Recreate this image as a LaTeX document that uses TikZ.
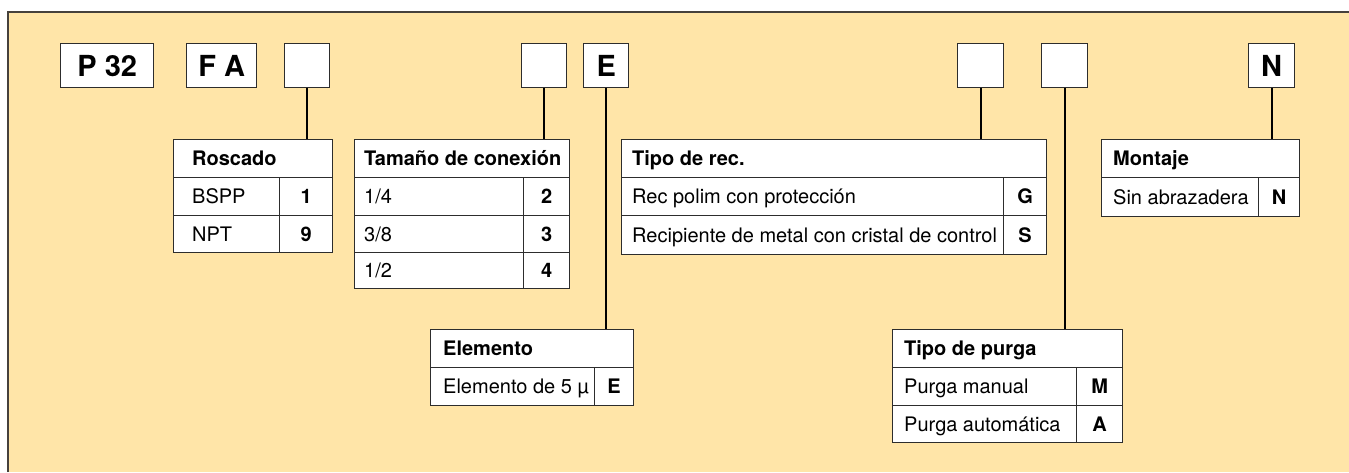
\documentclass[tikz,border=0pt]{standalone}
\usepackage{fontspec}
\setmainfont{TeX Gyre Heros}
\definecolor{bgc}{RGB}{255,229,168}
\definecolor{edge}{RGB}{45,45,45}
\definecolor{frame}{RGB}{70,65,60}
\newcommand\tblfont{\fontsize{20}{24}\selectfont}
\newcommand\topfont{\fontsize{29}{34}\selectfont\bfseries}
% cell: name, x1, y1, x2, y2
\newcommand\mkcell[5]{%
  \pgfmathsetmacro\cw{#4-#2}\pgfmathsetmacro\ch{#5-#3}%
  \node[cell, minimum width=\cw pt, minimum height=\ch pt] (#1) at (#2,#3) {};}
% left text in cell: name, pad, text
\newcommand\ltext[3]{%
  \node[ctext, anchor=base west] (#1t) at ([xshift=#2pt, yshift=-7pt]#1.west) {#3};}
% code cell: name, x1, y1, x2, y2, text
\newcommand\mkcode[6]{%
  \pgfmathsetmacro\cw{#4-#2}\pgfmathsetmacro\ch{#5-#3}%
  \node[cell, minimum width=\cw pt, minimum height=\ch pt] (#1) at (#2,#3) {};
  \node[ctext, anchor=base] (#1t) at ([yshift=-7pt]#1.center) {\textbf{#6}};}
\begin{document}
\begin{tikzpicture}[x=1pt,y=-1pt,
  cell/.style={draw=edge, line width=1.2pt, fill=white, inner sep=0pt, anchor=north west},
  ctext/.style={font=\tblfont, inner sep=0pt, text=black},
  topbox/.style={draw=edge, line width=1.4pt, fill=white, inner sep=0pt, anchor=north west,
     minimum height=44pt, font=\topfont},
  conn/.style={draw=black, line width=2pt}]
\useasboundingbox (0,0) rectangle (1349,472);
\fill[bgc] (8,12) rectangle (1349,472);
\draw[frame, line width=1.5pt] (8,472) -- (8,12) -- (1349,12);

% top row
\node[topbox, minimum width=93pt] (p32) at (60,43) {P 32};
\node[topbox, minimum width=70pt] (fa) at (186,43) {F A};
\node[topbox, minimum width=45pt] (b1) at (284,43) {};
\node[topbox, minimum width=45pt] (b2) at (521,43) {};
\node[topbox, minimum width=45pt] (be) at (583,43) {E};
\node[topbox, minimum width=46pt] (b3) at (957,43) {};
\node[topbox, minimum width=46pt] (b4) at (1041,43) {};
\node[topbox, minimum width=46pt] (bn) at (1248,43) {N};

% Roscado
\mkcell{rosH}{173}{139}{332}{177}\ltext{rosH}{19}{\textbf{Roscado}}
\mkcell{rosA}{173}{177}{279}{215}\ltext{rosA}{19}{BSPP}
\mkcode{rosAc}{279}{177}{332}{215}{1}
\mkcell{rosB}{173}{215}{279}{252}\ltext{rosB}{19}{NPT}
\mkcode{rosBc}{279}{215}{332}{252}{9}

% Tamaño de conexión
\mkcell{tamH}{354}{139}{569}{177}\ltext{tamH}{10}{\textbf{Tamaño de conexión}}
\mkcell{tamA}{354}{177}{523}{215}\ltext{tamA}{10}{1/4}
\mkcode{tamAc}{523}{177}{569}{215}{2}
\mkcell{tamB}{354}{215}{523}{252}\ltext{tamB}{10}{3/8}
\mkcode{tamBc}{523}{215}{569}{252}{3}
\mkcell{tamC}{354}{252}{523}{288}\ltext{tamC}{10}{1/2}
\mkcode{tamCc}{523}{252}{569}{288}{4}

% Tipo de rec.
\mkcell{recH}{621}{139}{1046}{177}\ltext{recH}{11}{\textbf{Tipo de rec.}}
\mkcell{recA}{621}{177}{1003}{215}\ltext{recA}{11}{Rec polim con protección}
\mkcode{recAc}{1003}{177}{1046}{215}{G}
\mkcell{recB}{621}{215}{1003}{254}\ltext{recB}{11}{Recipiente de metal con cristal de control}
\mkcode{recBc}{1003}{215}{1046}{254}{S}

% Montaje
\mkcell{monH}{1101}{139}{1299}{177}\ltext{monH}{12}{\textbf{Montaje}}
\mkcell{monA}{1101}{177}{1258}{216}\ltext{monA}{12}{Sin abrazadera}
\mkcode{monAc}{1258}{177}{1299}{216}{N}

% Elemento
\mkcell{eleH}{430}{329}{633}{367}\ltext{eleH}{13}{\textbf{Elemento}}
\mkcell{eleA}{430}{367}{594}{405}\ltext{eleA}{13}{Elemento de 5 µ}
\mkcode{eleAc}{594}{367}{633}{405}{E}

% Tipo de purga
\mkcell{purH}{892}{329}{1122}{367}\ltext{purH}{12}{\textbf{Tipo de purga}}
\mkcell{purA}{892}{367}{1076}{405}\ltext{purA}{12}{Purga manual}
\mkcode{purAc}{1076}{367}{1122}{405}{M}
\mkcell{purB}{892}{405}{1076}{442}\ltext{purB}{12}{Purga automática}
\mkcode{purBc}{1076}{405}{1122}{442}{A}

% connectors
\draw[conn] (b1.south) -- (b1.south |- rosH.north);
\draw[conn] (b2.south) -- (b2.south |- tamH.north);
\draw[conn] (be.south) -- (be.south |- eleH.north);
\draw[conn] (b3.south) -- (b3.south |- recH.north);
\draw[conn] (b4.south) -- (b4.south |- purH.north);
\draw[conn] (bn.south) -- (bn.south |- monH.north);
\end{tikzpicture}
\end{document}
